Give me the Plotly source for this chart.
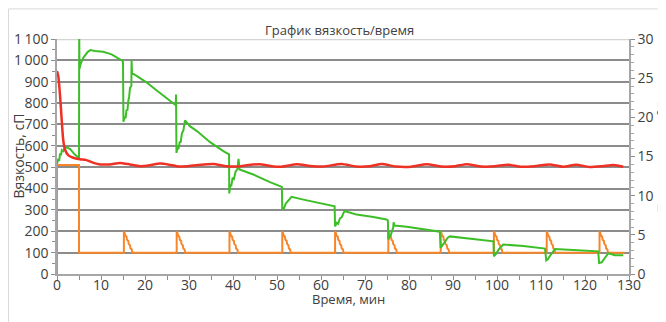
import plotly.graph_objects as go

# ---------------- data ----------------
# Viscosity (green), cP
visc_t = [0.0, 0.3, 0.5, 0.7, 0.9, 1.1, 1.4, 1.7, 2.2, 3.0, 4.0, 5.0, 5.05, 5.1,
          5.4, 6.0, 7.0, 7.6, 8.6, 10.5, 12.4, 13.9, 14.9, 15.0, 15.1, 15.4, 15.6,
          15.8, 16.0, 16.2, 16.4, 16.6, 16.9, 16.95, 17.05, 18.1, 20.4, 22.6, 24.9,
          26.8, 27.0, 27.05, 27.15, 27.4, 27.6, 27.9, 28.1, 28.4, 28.7, 29.1, 30.2,
          31.8, 34.8, 37.8, 39.1, 39.15, 39.4, 39.6, 39.9, 40.2, 40.6, 41.0, 41.25,
          41.5, 44.6, 48.4, 51.1, 51.2, 51.6, 52.0, 52.4, 53.3, 56.0, 59.8, 63.1,
          63.2, 63.6, 63.9, 64.3, 64.7, 65.2, 65.5, 68.1, 71.9, 74.9, 75.2, 75.3,
          75.6, 75.9, 76.2, 76.4, 76.5, 76.7, 79.5, 83.3, 87.0, 87.2, 87.6, 88.0,
          88.4, 88.8, 89.3, 93.1, 96.9, 99.2, 99.3, 99.8, 100.4, 101.0, 101.4,
          106.0, 110.9, 111.2, 111.6, 112.2, 112.8, 113.2, 117.3, 123.0, 123.2,
          123.8, 124.5, 125.3, 126.8, 128.7]
visc_v = [515, 540, 530, 565, 555, 580, 575, 588, 593, 585, 560, 543, 1150, 960,
          985, 1013, 1040, 1048, 1044, 1040, 1028, 1010, 997, 990, 713, 735, 730,
          770, 765, 810, 830, 872, 880, 1000, 940, 927, 896, 860, 825,
          794, 790, 840, 567, 590, 585, 620, 615, 660, 670, 719, 692,
          669, 617, 575, 560, 377, 420, 410, 450, 445, 480, 490, 539,
          489, 466, 430, 408, 305, 308, 330, 340, 361, 348, 333, 317,
          223, 240, 235, 260, 265, 290, 294, 278, 267, 255, 250, 161,
          175, 185, 205, 215, 242, 227, 221, 209, 198, 122, 135, 150,
          160, 170, 176, 166, 157, 153, 83, 95, 115, 130, 138,
          131, 119, 64, 70, 90, 110, 117, 112, 106, 52,
          55, 75, 97, 88, 88]

# Temperature (red), °C
temp_t = [0.0, 0.3, 0.7, 1.06, 1.4, 1.8, 2.6, 3.7, 5.2, 6.7, 8.3, 9.8, 12.0,
          14.3, 16.6, 18.9, 21.1, 23.4, 25.5, 27.2, 29.5, 32.0, 35.5, 38.5, 41.0,
          43.5, 46.0, 48.5, 51.0, 54.5, 57.5, 60.5, 64.7, 68.0, 71.0, 73.8, 77.0,
          80.5, 84.0, 87.5, 90.5, 93.1, 96.5, 99.5, 102.5, 105.5, 108.5, 112.0,
          115.0, 118.0, 121.0, 124.0, 126.5, 128.7]
temp_v = [25.91, 25.25, 22.72, 19.75, 17.18, 15.90, 15.14, 14.84, 14.65,
          14.54, 14.18, 13.99, 13.99, 14.18, 13.99, 13.77, 13.88, 14.10, 13.96,
          13.77, 13.75, 13.91, 14.05, 13.77, 13.72, 13.91, 14.02, 13.80, 13.69,
          14.02, 13.80, 13.72, 14.05, 13.72, 13.75, 14.05, 13.72, 13.69, 14.02,
          13.72, 13.77, 14.02, 13.72, 13.75, 13.96, 13.69, 13.77, 13.99, 13.69,
          13.96, 13.66, 13.77, 13.91, 13.69]

# Orange series (left axis units), stepped ramps after each peak
orng_t = [0.0, 0.0, 5.0, 5.0,
          15.2, 15.2, 15.4, 15.5, 15.8, 15.9, 16.2, 16.3, 16.6, 16.7, 17.0, 17.1,
          27.2, 27.2, 27.4, 27.5, 27.8, 27.9, 28.2, 28.3, 28.6, 28.7, 29.0, 29.1,
          39.2, 39.2, 39.4, 39.5, 39.8, 39.9, 40.2, 40.3, 40.6, 40.7, 41.0, 41.1,
          51.2, 51.2, 51.4, 51.5, 51.8, 51.9, 52.2, 52.3, 52.6, 52.7, 53.0, 53.1,
          63.2, 63.2, 63.4, 63.5, 63.8, 63.9, 64.2, 64.3, 64.6, 64.7, 65.0, 65.1,
          75.3, 75.3, 75.5, 75.6, 75.9, 76.0, 76.3, 76.4, 76.7, 76.8, 77.1, 77.2,
          87.2, 87.2, 87.4, 87.5, 87.8, 87.9, 88.2, 88.3, 88.6, 88.7, 89.0, 89.1,
          99.3, 99.3, 99.5, 99.6, 99.9, 100.0, 100.3, 100.4, 100.7, 100.8, 101.1, 101.2,
          111.3, 111.3, 111.5, 111.6, 111.9, 112.0, 112.3, 112.4, 112.7, 112.8, 113.1, 113.2,
          123.3, 123.3, 123.5, 123.6, 123.9, 124.0, 124.3, 124.4, 124.7, 124.8, 125.1, 125.2,
          129.0]
orng_v = [0, 510, 510, 100,
          100, 200, 190, 180, 175, 160, 155, 140, 135, 120, 115, 100,
          100, 200, 190, 180, 175, 160, 155, 140, 135, 120, 115, 100,
          100, 200, 190, 180, 175, 160, 155, 140, 135, 120, 115, 100,
          100, 200, 190, 180, 175, 160, 155, 140, 135, 120, 115, 100,
          100, 200, 190, 180, 175, 160, 155, 140, 135, 120, 115, 100,
          100, 200, 190, 180, 175, 160, 155, 140, 135, 120, 115, 100,
          100, 200, 190, 180, 175, 160, 155, 140, 135, 120, 115, 100,
          100, 200, 190, 180, 175, 160, 155, 140, 135, 120, 115, 100,
          100, 200, 190, 180, 175, 160, 155, 140, 135, 120, 115, 100,
          100, 200, 190, 180, 175, 160, 155, 140, 135, 120, 115, 100,
          100]

left_ticks = [0, 100, 200, 300, 400, 500, 600, 700, 800, 900, 1000, 1100]
left_labels = ["0", "100", "200", "300", "400", "500", "600", "700", "800",
               "900", "1\u2009000", "1\u2009100"]

title_text = "График вязкость/время"
x_title = "Время, мин"
y_title = "Вязкость, сП"
y2_title = "Температура, °С"

# ---------------- figure ----------------
FONT = "Open Sans"
TXT = "#404040"

fig = go.Figure()
fig.add_trace(go.Scatter(x=orng_t, y=orng_v, mode="lines",
                         line=dict(color="#F7862A", width=2), yaxis="y",
                         hoverinfo="skip", showlegend=False))
fig.add_trace(go.Scatter(x=visc_t, y=visc_v, mode="lines",
                         line=dict(color="#3DBE28", width=2), yaxis="y",
                         showlegend=False))
fig.add_trace(go.Scatter(x=temp_t, y=temp_v, mode="lines",
                         line=dict(color="#EE3124", width=2.5, shape="spline", smoothing=0.6),
                         yaxis="y2", showlegend=False))

# The page body has an 8px default margin, so the figure is sized/offset to fit
fig.update_layout(
    width=658, height=314,
    margin=dict(l=49, r=37, t=31, b=48, autoexpand=False),
    paper_bgcolor="white", plot_bgcolor="white",
    font=dict(family=FONT, size=14, color=TXT),
    xaxis=dict(range=[0, 130], dtick=10, tick0=0, showgrid=False, zeroline=False,
               automargin=False, ticklabelstandoff=-7,
               showline=True, linecolor="#a6a6a6", linewidth=1.5,
               ticks="outside", ticklen=4, tickcolor="#8c8c8c",
               minor=dict(dtick=5, ticks="outside", ticklen=4, tickcolor="#8c8c8c"),
               tickfont=dict(size=14, color=TXT)),
    yaxis=dict(range=[0, 1100], tickvals=left_ticks, ticktext=left_labels,
               automargin=False,
               showgrid=True, gridcolor="#8c8c8c", gridwidth=2, zeroline=False,
               showline=True, linecolor="#a6a6a6", linewidth=1.5,
               ticks="outside", ticklen=4, tickcolor="#8c8c8c",
               minor=dict(dtick=50, ticks="outside", ticklen=3, tickcolor="#8c8c8c",
                          showgrid=False),
               tickfont=dict(size=14, color=TXT)),
    yaxis2=dict(range=[0, 30], dtick=5, overlaying="y", side="right",
                automargin=False,
                showgrid=False, zeroline=False,
                showline=True, linecolor="#a6a6a6", linewidth=1.5,
                ticks="outside", ticklen=4, tickcolor="#8c8c8c",
                minor=dict(dtick=1, ticks="outside", ticklen=3, tickcolor="#a6a6a6"),
                tickfont=dict(size=14, color=TXT)),
    shapes=[
        dict(type="line", xref="paper", yref="y", x0=0, x1=1, y0=1100, y1=1100,
             line=dict(color="#d4d4d4", width=2.5), layer="between"),
        dict(type="rect", xref="paper", yref="paper", x0=-0.0848, x1=1.2,
             y0=-0.4, y1=1.128, line=dict(color="#d9d9d9", width=1),
             fillcolor="rgba(0,0,0,0)", layer="below"),
    ],
    annotations=[
        dict(text=title_text, xref="paper", yref="paper", x=0.494, y=1.038,
             showarrow=False, font=dict(size=13, color=TXT, family=FONT),
             xanchor="center", yanchor="middle"),
        dict(text=x_title, xref="paper", yref="paper", x=0.509, y=-0.108,
             showarrow=False, font=dict(size=13, color=TXT, family=FONT),
             xanchor="center", yanchor="middle"),
        dict(text=y_title, xref="paper", yref="paper", x=-0.068, y=0.5,
             showarrow=False, textangle=-90, font=dict(size=14, color=TXT, family=FONT),
             xanchor="center", yanchor="middle"),
        dict(text=y2_title, xref="paper", yref="paper", x=1.058, y=0.5,
             showarrow=False, textangle=-90, font=dict(size=14, color=TXT, family=FONT),
             xanchor="center", yanchor="middle"),
    ],
)

fig.write_html("out.html")
